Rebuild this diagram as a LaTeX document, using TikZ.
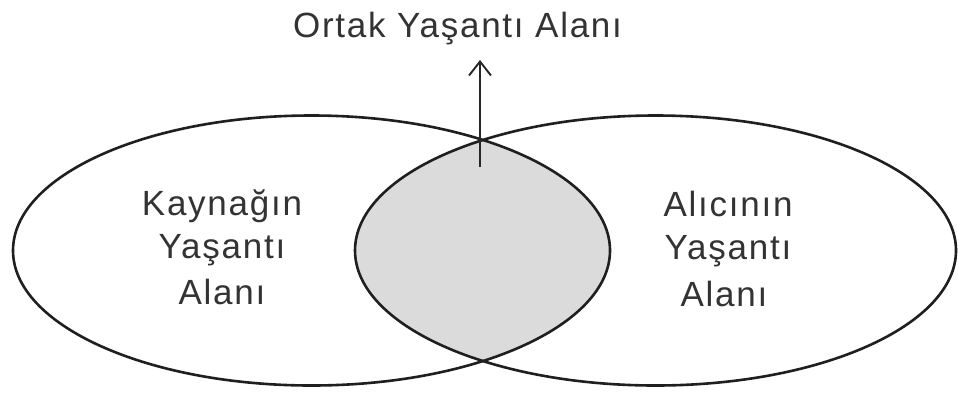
\documentclass[tikz,border=0pt]{standalone}
\usepackage{fontspec}
\setmainfont{Liberation Sans}
\newfontfamily\labfont[LetterSpace=5]{Liberation Sans}
\usetikzlibrary{arrows.meta}
\begin{document}
\begin{tikzpicture}[x=1pt,y=-1pt,
  ring/.style={draw=black!88, line width=2.6pt},
  lensfill/.style={fill=black!14},
  lab/.style={font=\labfont\fontsize{35}{45}\selectfont, text=black!80, inner sep=0pt, anchor=base},
  arr/.style={draw=black!85, line width=1.9pt, -{Straight Barb[length=14pt,width=22pt,line width=1.9pt]}}
]
\useasboundingbox (0,0) rectangle (958,392);
\fill[white] (0,0) rectangle (958,392);
% lens (common area)
\begin{scope}
  \clip (311.5,250.5) ellipse [x radius=298.5pt, y radius=135pt];
  \fill[lensfill] (655.5,250.5) ellipse [x radius=300.5pt, y radius=135pt];
\end{scope}
% the two experience fields
\draw[ring] (311.5,250.5) ellipse [x radius=298.5pt, y radius=135pt];
\draw[ring] (655.5,250.5) ellipse [x radius=300.5pt, y radius=135pt];
% title and arrow
\node[lab] (title) at (457.5,37) {Ortak Yaşantı Alanı};
\coordinate (abase) at (480,167);
\coordinate (atip) at (480,60);
\draw[arr] (abase) -- (atip);
% left labels
\node[lab] (k1) at (222,215) {Kaynağın};
\node[lab] (k2) at (222,258) {Yaşantı};
\node[lab] (k3) at (222,304) {Alanı};
% right labels
\node[lab] (r1) at (728,216) {Alıcının};
\node[lab] (r2) at (728,259) {Yaşantı};
\node[lab] (r3) at (724,306) {Alanı};
\end{tikzpicture}
\end{document}
